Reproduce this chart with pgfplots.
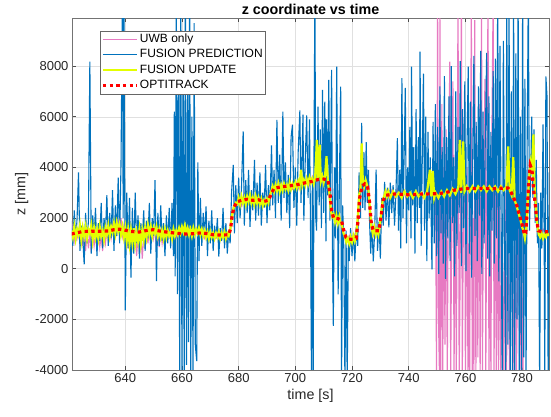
\documentclass[border=0pt]{standalone}
\usepackage{fontspec}
\setmainfont{Liberation Sans}
\usepackage{pgfplots}
\pgfplotsset{compat=1.18}

\definecolor{uwbpink}{RGB}{231,122,194}
\definecolor{predblue}{RGB}{0,114,189}
\definecolor{updyellow}{RGB}{228,255,0}
\definecolor{axgray}{RGB}{38,38,38}

\begin{document}
\begin{tikzpicture}
\begin{axis}[
  scale only axis, width=477pt, height=351.5pt,
  xmin=621.2, xmax=789.5, ymin=-4000, ymax=9880,
  xtick={640,660,...,780}, xticklabels={640,660,680,700,720,740,760,780},
  ytick={-4000,-2000,...,8000}, yticklabels={-4000,-2000,0,2000,4000,6000,8000},
  tick align=inside, major tick length=4pt,
  grid=major, grid style={black!12, line width=0.5pt},
  axis line style={black!55, line width=0.6pt},
  tick style={black!70, line width=0.6pt},
  tick label style={font=\fontsize{13}{15}\selectfont, text=axgray},
  xlabel={time [s]}, ylabel={z [mm]},
  label style={font=\fontsize{14.3}{16}\selectfont, text=axgray},
  title={z coordinate vs time},
  every axis title/.style={at={(0.5,1)}, anchor=base, yshift=3.5pt, inner sep=0pt,
    font=\bfseries\fontsize{14.3}{16}\selectfont, text=black},
  legend cell align=left,
  legend style={at={(rel axis cs:0.0587,0.9653)}, anchor=north west,
    draw=black!60, line width=0.6pt, fill=white,
    inner xsep=1pt, inner ysep=1.5pt, row sep=0.7pt,
    font=\fontsize{12}{13}\selectfont,
    nodes={inner sep=1.5pt, text height=8.8pt, text depth=2.7pt}},
  legend image code/.code={\draw[#1] (0pt,0pt) -- (34pt,0pt);},
]

% UWB only
\addplot[uwbpink, line width=1.1pt] coordinates {
(621.0,1300) (621.5,1700) (622.0,1100) (622.5,1600) (623.0,1200) (623.5,1500) (624.0,1000) (624.5,1550)
(625.0,900) (625.5,1400) (626.0,700) (626.5,1500) (627.0,800) (627.5,1400) (628.0,650) (628.5,1450)
(629.0,900) (629.5,1350) (630.0,700) (630.5,1500) (631.0,850) (631.5,1300) (632.0,700) (632.5,1450)
(633.0,1000) (633.5,1500) (634.0,1100) (634.5,1600) (635.0,1200) (635.5,1700) (636.0,1300) (636.5,1800)
(637.0,1400) (637.5,1900) (638.0,1500) (638.5,2000) (639.0,1300) (639.5,1700) (640.0,1000) (640.5,1500)
(641.0,800) (641.5,1400) (642.0,600) (642.5,1300) (643.0,700) (643.5,1500) (644.0,500) (644.5,1300)
(645.0,600) (645.5,1400) (646.0,400) (646.5,1300) (647.0,800) (647.5,1500) (648.0,1000) (648.5,1650)
(649.0,1100) (649.5,1700) (650.0,1200) (650.5,1600) (651.0,900) (651.5,1550) (652.0,850) (652.5,1500)
(653.0,1000) (653.5,1450) (654.0,1100) (654.5,1500) (655.0,1200) (655.5,1500) (656.0,1250)
(657,1600) (658,1250) (659,1650) (660,1300) (661,1600) (662,1250) (663,1650) (664,1300) (665,1600)
(666,1250) (667,1550) (668,1200) (669,1500) (670,1150) (671,1450) (672,1200) (673,1450) (674,1150)
(675,1500) (676,1200) (677,1500) (677.6,2000) (678.2,2500) (679,2500) (680,2900) (681,2500) (682,2950)
(683,2550) (684,2950) (685,2500) (686,2900) (687,2550) (688,2850) (689,2500) (690,2850) (691,2700)
(692,3300) (693,3000) (694,3400) (695,3050) (696,3400) (697,3100) (698,3450) (699,3150) (700,3500)
(701,3150) (702,3550) (703,3250) (704,3600) (705,3300) (706,3650) (707,3350) (708,4600) (709,3400)
(710,3700) (711,3350) (712,2800) (712.7,2100) (713.5,2200) (714.5,1800) (715.5,2100) (716.3,1800)
(717,1400) (718,1000) (719,1300) (720,1000) (721,1350) (722,1700) (722.7,2800) (723.5,3400) (724.5,3150)
(725.5,3400) (726.2,2500) (726.8,1700) (727.5,1300) (728.5,1650) (729.5,1300) (730.3,2100) (731,2700)
(732,3100) (733,2800) (734,3100) (735,2800) (736,3150) (737,2800) (738,3100) (739,2800) (740,3100)
(741,2750) (742,3150) (743,2800) (744,3100) (745,2800) (746,3150) (747,2750) (748,3100) (748.6,2600)
(749.2,3200)
(749.5,3000) (749.8,-4500) (750.2,11000) (750.5,-2000) (750.9,-4500) (751.0,11000) (751.3,-4500) (751.7,6500)
(752.0,-4500) (752.4,4000) (752.8,-3000) (753.2,5500) (753.6,-4500) (754.0,3500) (754.5,8180) (754.8,-4500)
(755.2,2000) (755.6,7400) (756.0,-4500) (756.4,4500) (756.8,-4500) (757.1,3000) (757.4,11000) (757.8,-4500)
(758.1,-1000) (758.6,11000) (758.9,-4500) (759.2,500) (759.7,7000) (760.0,-4500) (760.3,-500) (760.6,4000)
(760.9,-4500) (761.2,1000) (761.5,-4500) (762.1,11000) (762.4,-4500) (762.7,2000) (763.0,-4500) (763.3,9820)
(763.7,-4500) (764.0,5000) (764.4,-3500) (764.8,6500) (765.2,-4500) (765.7,11000) (766.0,-4500) (766.4,3000)
(766.9,7500) (767.2,-4500) (767.6,4500) (768.0,11000) (768.3,-4500) (768.7,2500) (769.0,-4500) (769.4,6000)
(769.8,11000) (770.1,-4500) (770.5,4000) (770.9,-4500) (771.3,3000) (771.7,-4500) (772.1,2500) (772.5,-4500)
(773.0,2000) (773.5,-4500) (774.0,3000) (774.5,-4500) (775.0,2800) (775.6,-4500) (776.2,2500) (776.8,-4500)
(777.4,2600) (778.0,-4500) (778.6,2300) (779.2,-4500) (779.8,2000) (780.3,-4500) (780.8,1500) (781.3,1200)
(782,2500) (782.6,3900) (783.2,4100) (783.8,3600) (784.4,2800) (785,2000) (785.6,1500) (786.5,1300)
(787.5,1550) (788.5,1300) (789.5,1450)
};
\addlegendentry{UWB only}

% FUSION PREDICTION
\addplot[predblue, line width=1.1pt] coordinates {
(621.0,1900) (621.5,900) (622.0,2300) (622.5,1100) (623.0,2000) (623.5,3800) (624.0,700) (624.5,1700)
(625.0,1200) (625.5,170) (626.0,2200) (626.5,1000) (627.0,1900) (627.5,8180) (628.0,600) (628.5,2100)
(629.0,1300) (629.5,2400) (630.0,500) (630.5,1800) (631.0,1100) (631.5,2600) (632.0,800) (632.5,2000)
(633.0,1400) (633.5,2900) (634.0,900) (634.5,2200) (635.0,1200) (635.5,3100) (636.0,700) (636.5,2500)
(637.0,1300) (637.5,3600) (638.0,1000)
(638.5,4200) (639.0,11000) (639.25,2000) (639.5,11000) (640.0,-1650) (640.5,3000)
(641.0,800) (641.5,2800) (642.0,-350) (642.5,2400) (643.0,600) (643.5,3000) (644.0,1000) (644.5,2100)
(645.0,400) (645.5,1800) (646.0,1100) (646.5,2300) (647.0,700) (647.5,1900) (648.0,1200) (648.5,2600)
(649.0,600) (649.5,2000) (650.0,1300) (650.5,3500) (651.0,-490) (651.5,2200) (652.0,900) (652.5,2500)
(653.0,1100) (653.5,1800) (654.0,500) (654.5,2100) (655.0,1000) (655.5,2400) (656.0,800)
(656.5,2600) (657.0,500) (657.3,6200) (657.6,-300) (658.0,11000) (658.4,-1000) (658.8,9000) (659.2,-4500)
(659.6,11000) (660.0,-4500) (660.4,8500) (660.8,-4500) (661.2,11000) (661.6,-3800) (662.0,7000) (662.3,-2900)
(662.7,11000) (663.1,-4500) (663.5,6000) (663.9,-4500) (664.3,9700) (664.7,-3000) (665.2,-3650) (665.6,4200)
(666.0,300) (666.5,2800)
(667.0,900) (667.5,2200) (668.0,1300) (668.5,2460) (669.0,500) (669.5,1900) (670.0,1000) (670.5,2300)
(671.0,700) (671.5,1700) (672.0,1200) (672.5,2000) (673.0,480) (673.5,1600) (674.0,1100) (674.5,2400)
(675.0,800) (675.5,1800) (676.0,600) (676.5,1500) (677.0,1000)
(677.5,3000) (678.1,4100) (678.5,1400) (679.0,3300) (679.5,1800) (680.0,3600) (680.5,2000) (681.0,3200)
(681.6,5420) (682.0,1700) (682.5,3500) (683.0,2200) (683.5,3900) (684.0,1650) (684.5,3100) (685.0,2300)
(685.6,4300) (686.0,1900) (686.5,3400) (687.0,2100) (687.5,3800) (688.0,1700) (688.5,3000) (689.0,2400)
(689.5,4100) (690.0,1800) (690.5,3300)
(691.0,2300) (691.6,4870) (692.0,2500) (692.5,3900) (693.0,2000) (693.5,5880) (694.0,2600) (694.5,4500)
(695.0,1900) (695.6,6200) (696.0,2800) (696.5,4200) (697.0,2200) (697.5,3700) (698.0,1600) (698.5,5200)
(699.0,5690) (699.5,2400) (700.0,4000) (700.5,1700) (701.0,4600) (701.6,6250) (702.0,2600) (702.7,6080)
(703.0,1900) (703.5,4300) (704.0,6050) (704.5,2800) (705.0,5900) (705.4,1100) (705.7,-4500) (706.0,3500)
(706.3,-4500) (706.6,4800) (706.9,11000) (707.2,2000) (707.5,1500) (708.0,6400) (708.4,2500) (708.8,5500)
(709.2,1600) (709.6,7060) (710.0,2200) (710.4,6600) (710.8,1080) (711.0,5900) (711.4,2900) (711.8,7460)
(712.2,1900) (712.8,7850) (713.1,600) (713.4,-2260) (713.8,4000) (714.2,1200) (714.6,7980) (715.1,-1010)
(715.5,3000) (716.0,7190) (716.3,-4500) (716.7,2500) (717.1,800) (717.5,-4500) (717.9,1500) (718.3,-4500)
(718.7,1000)
(719.0,300) (719.5,1600) (720.0,500) (720.5,1400) (721.0,290) (721.5,1630) (722.0,900) (722.5,3800)
(723.0,2000) (723.4,5760) (723.8,2400) (724.2,4600) (724.6,2300) (725.0,5000) (725.4,2600) (725.8,3900)
(726.2,1800) (726.6,600) (727.0,1800) (727.5,290) (728.0,1500) (728.5,3910) (729.0,700) (729.5,1860)
(730.0,400) (730.5,2800) (731.0,1700) (731.5,3430) (732.0,1900) (732.5,3200) (733.0,1630) (733.5,3400)
(734.0,2200) (734.5,3300) (735.0,1700) (735.5,3000)
(736.0,5160) (736.4,1500) (736.8,3900) (737.2,800) (737.6,7530) (738.0,2000) (738.4,4600) (738.8,7140)
(739.2,1000) (739.6,4000) (740.0,2300) (740.4,5600) (740.8,1200) (741.0,7980) (741.4,2500) (741.8,4800)
(742.2,600) (742.6,6300) (743.0,1800) (743.4,5200) (743.8,2400) (744.0,8570) (744.4,900) (744.8,4500)
(745.2,7700) (745.6,1500) (746.0,6000) (746.4,300) (746.8,5400) (747.2,2000) (747.6,4400) (748.2,-30)
(748.6,5800) (749.0,1000)
(749.4,6500) (749.8,500) (750.2,5600) (750.6,-200) (751.0,7200) (751.4,1400) (751.8,4800) (752.2,200)
(752.6,7600) (753.0,-400) (753.4,5200) (753.8,1200) (754.2,6800) (754.6,300) (755.0,8000) (755.4,1800)
(755.8,4400) (756.2,-300) (756.6,7000) (757.0,900) (757.4,5600) (757.8,2200) (758.2,8200) (758.6,100)
(759.0,6300) (759.4,1600) (759.8,7400) (760.2,-100) (760.6,5000) (761.0,7980) (761.4,600) (761.8,6600)
(762.2,-350) (762.6,4600) (763.0,8400) (763.4,1300) (763.8,5800) (764.2,300) (764.6,7200) (765.0,2100)
(765.4,8600) (765.8,-200) (766.2,6200) (766.6,1000) (767.0,4900) (767.5,8520) (767.9,400) (768.3,6800)
(768.6,-300) (769.0,5400) (769.4,1500) (769.8,7800) (770.2,200) (770.6,8300) (771.0,1200) (771.4,11000)
(771.8,-500) (772.2,8800) (772.6,2000)
(773.0,-4500) (773.4,9000) (773.8,1500) (774.2,-4500) (774.6,11000) (775.0,-3000) (775.4,11000) (775.8,-4500)
(776.2,7000) (776.6,-4500) (777.0,11000) (777.4,-4500) (777.8,8500) (778.2,-2000) (778.6,11000) (779.0,-4500)
(779.4,6000) (779.8,-4500) (780.2,11000) (780.6,-3500) (781.0,7500) (781.4,-4500) (781.8,5000) (782.2,11000)
(782.6,1500)
(783.0,3500) (783.4,6000) (783.8,2800) (784.2,5500) (784.6,1800) (785.0,4300) (785.4,1000) (785.8,2600)
(786.2,-4500) (786.6,3000) (787.0,800) (787.4,5700) (787.8,1300) (788.0,-4500) (788.4,7590) (788.8,6800)
(789.2,-4500) (789.6,3800)
};
\addlegendentry{FUSION PREDICTION}

% FUSION UPDATE
\addplot[updyellow, line width=2.2pt] coordinates {
(621.0,1500) (621.5,1250) (622.0,1650) (622.5,1200) (623.0,1550) (623.5,1350) (624.0,1700) (624.5,1150)
(625.0,1600) (625.5,1300) (626.0,1650) (626.5,1200) (627.0,1550) (627.5,1400) (628.0,1700) (628.5,1150)
(629.0,1600) (629.5,1250) (630.0,1550) (630.5,1200) (631.0,1650) (631.5,1300) (632.0,1500) (632.5,1150)
(633.0,1600) (633.5,1350) (634.0,1700) (634.5,1300) (635.0,1650) (635.5,1450) (636.0,1780) (636.5,1400)
(637.0,1800) (637.5,1500) (638.0,1750) (638.5,1350) (639.0,1650) (639.5,1250) (640.0,1600) (640.5,1100)
(641.0,1550) (641.5,1000) (642.0,1500) (642.5,1050) (643.0,1600) (643.5,1000) (644.0,1450) (644.5,1100)
(645.0,1550) (645.5,1000) (646.0,1500) (646.5,1150) (647.0,1600) (647.5,1250) (648.0,1700) (648.5,1350)
(649.0,1650) (649.5,1300) (650.0,1600) (650.5,1400) (651.0,1650) (651.5,1300) (652.0,1550) (652.5,1250)
(653.0,1500) (653.5,1200) (654.0,1550) (654.5,1250) (655.0,1500) (655.5,1300) (656.0,1450) (656.5,1200)
(657.0,1550) (657.5,1300) (658.0,1500) (658.5,1350) (659.0,1600) (659.5,1400) (660.0,1650) (660.5,1450)
(661.0,1700) (661.5,1400) (662.0,1600) (662.5,1350) (663.0,1550) (663.5,1300) (664.0,1600) (664.5,1350)
(665.0,1550) (665.5,1400) (666.0,1600) (666.5,1350) (667.0,1550) (667.5,1300) (668.0,1500) (668.5,1250)
(669.0,1450) (669.5,1200) (670.0,1450) (670.5,1250) (671.0,1400) (671.5,1200) (672.0,1400) (672.5,1250)
(673.0,1450) (673.5,1200) (674.0,1400) (674.5,1250) (675.0,1450) (675.5,1200) (676.0,1400) (676.5,1300)
(677.0,1500) (677.5,2000) (678.0,2300) (678.5,2500) (679.0,2600)
(679.5,2550) (680.0,2800) (680.5,2550) (681.0,2850) (681.5,2600) (682.0,2800) (682.5,2550) (683.0,2850)
(683.5,2650) (684.0,2900) (684.5,2600) (685.0,2800) (685.5,2550) (686.0,2850) (686.5,2600) (687.0,2800)
(687.5,2550) (688.0,2750) (688.5,2500) (689.0,2700) (689.5,2550) (690.0,2750) (690.5,2600) (691.0,2900)
(691.5,3050) (692.0,3250) (692.5,3050) (693.0,3300) (693.5,3100) (694.0,3350) (694.5,3050) (695.0,3300)
(695.5,3100) (696.0,3350) (696.5,3150) (697.0,3300) (697.5,3100) (698.0,3400) (698.5,3150) (699.0,3350)
(699.5,3200) (700.0,3400) (700.5,3200) (701.0,3450) (701.5,3250) (702.0,3910) (702.5,3300) (703.0,3500)
(703.5,3300) (704.0,3550) (704.5,3350) (705.0,3600) (705.5,3400) (706.0,3550) (706.5,3350) (707.0,3600)
(707.6,5090) (708.0,3500) (708.6,4900) (709.0,3450) (709.5,3650) (710.0,3400) (710.5,3700) (711.0,4440)
(711.5,3400) (712.0,3000) (712.5,2300) (713.0,2050) (713.5,2150) (714.0,1850) (714.5,2100) (715.0,1800)
(715.5,2050) (716.0,1750) (716.5,1700) (717.0,1400) (717.5,1250) (718.0,1050) (718.5,1200) (719.0,1000)
(719.5,1250) (720.0,1050) (720.5,1300) (721.0,1100) (721.5,1350) (722.0,2000) (722.5,2900) (723.0,3200)
(723.4,4950) (723.8,3500) (724.3,3250) (724.8,3500) (725.3,3300) (725.8,3100) (726.3,2400) (726.8,1700)
(727.3,1400) (727.8,1650) (728.3,1350) (728.8,1550) (729.3,1350) (729.8,1700) (730.3,2200) (730.8,2700)
(731.3,2850) (731.8,3050) (732.3,2850) (732.8,3050)
(733.5,2800) (734.5,3050) (735.5,2850) (736.5,3000) (737.5,2800) (738.5,3050) (739.5,2850) (740.5,3000)
(741.5,2800) (742.5,3050) (743.5,2850) (744.5,3000) (745.5,2800) (746.5,3050) (747.5,3910) (748.0,2850)
(748.5,3860) (749.0,2800) (749.5,3000) (750.5,2800) (751.5,3050) (752.5,2850) (753.5,3100) (754.5,2900)
(755.5,3150) (756.5,2950) (757.5,3200) (758.0,5090) (758.5,3000) (759.2,5030) (759.7,3050) (760.5,3250)
(761.5,3050) (762.5,3250) (763.5,3050) (764.5,3250) (765.5,3100) (766.5,3250) (767.5,3050) (768.5,3250)
(769.5,3100) (770.5,3250) (771.5,3050) (772.5,3250) (773.5,3100) (774.5,3250) (775.1,4830) (775.6,3100)
(776.3,2900) (776.9,4400) (777.4,2700) (778.0,2500) (778.5,2300) (779.0,2100) (779.5,1900) (780.0,1650)
(780.5,1500) (781.0,1200) (781.5,1600) (782.0,2600) (782.5,3600) (783.0,4200) (783.5,3900) (784.0,5300)
(784.4,3300) (784.9,2400) (785.4,1700) (785.9,1350) (786.4,1250) (786.9,1400) (787.4,1200) (787.9,1350)
(788.4,1250) (788.9,1400) (789.5,1300)
};
\addlegendentry{FUSION UPDATE}

% OPTITRACK
\addplot[red, line width=3.2pt, dash pattern=on 3.4pt off 3.3pt] coordinates {
(621,1370) (623,1420) (625,1470) (628,1480) (631,1480) (634,1490) (636,1540) (638,1560) (640,1520)
(642,1470) (645,1450) (648,1520) (650,1540) (652,1490) (655,1440) (658,1400) (661,1370) (664,1380)
(667,1420) (669,1380) (671,1340) (674,1330) (676.5,1340) (677.2,1600) (677.7,2100) (678.3,2400)
(679.3,2640) (681,2700) (683,2740) (685,2700) (687,2720) (689,2660) (690.5,2700) (691.5,2950)
(692.5,3180) (695,3230) (697,3260) (700,3300) (703,3380) (706,3450) (708,3520) (710,3540) (711.5,3500)
(712.2,3000) (712.8,2300) (713.5,2000) (715,1980) (716.3,1900) (717,1550) (717.8,1250) (719,1160)
(720.5,1170) (721.5,1200) (722.1,1900) (722.7,2800) (723.5,3250) (724.5,3350) (725.5,3250) (726.2,2600)
(726.8,1800) (727.5,1500) (729.5,1500) (730.3,2100) (731,2700) (732,2900) (735,2950) (740,2920)
(745,2950) (750,2960) (753,3000) (756,3100) (760,3170) (765,3170) (770,3160) (775,3190) (776,3050)
(777,2800) (778,2550) (779,2150) (780,1750) (780.8,1350) (781.3,1400) (781.9,2500) (782.4,3500)
(782.9,4080) (783.5,3900) (784,3200) (784.6,2600) (785.1,2000) (785.7,1500) (787,1460) (790,1460)
};
\addlegendentry{OPTITRACK}
\end{axis}
\pgfresetboundingbox
\useasboundingbox ([shift={(-72pt,-47pt)}]current axis.south west) rectangle ([shift={(2pt,18.5pt)}]current axis.north east);
\end{tikzpicture}
\end{document}
